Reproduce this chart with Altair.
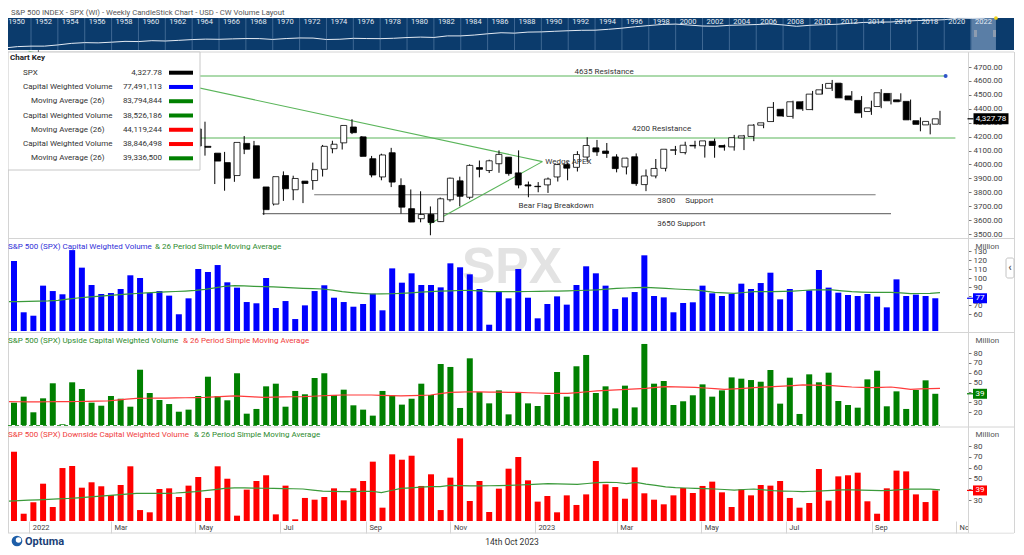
import altair as alt
import pandas as pd

FONT = "Roboto"

# ---------------- weekly S&P 500 data (weeks ending Friday) ----------------
week_ending = pd.date_range("2021-12-17", periods=96, freq="W-FRI")

spx_open = [4710, 4588, 4733, 4778, 4655, 4632, 4356, 4431, 4506, 4412,
            4332, 4363, 4328, 4202, 4462, 4541, 4547, 4474, 4385, 4255,
            4130, 4081, 4013, 3920, 4151, 4134, 3838, 3715, 3920, 3818,
            3880, 3884, 3965, 4113, 4155, 4269, 4198, 4041, 3910, 4084,
            3849, 3682, 3610, 3641, 3589, 3746, 3882, 3764, 3977, 3956,
            4005, 4052, 3939, 3853, 3843, 3853, 3910, 3999, 3979, 4053,
            4119, 4096, 4054, 3982, 4055, 3855, 3917, 3972, 4102, 4085,
            4137, 4134, 4166, 4136, 4126, 4190, 4201, 4282, 4308, 4396,
            4345, 4450, 4394, 4505, 4547, 4584, 4492, 4460, 4380, 4416,
            4510, 4464, 4453, 4314, 4284, 4289]
spx_high = [4731, 4740, 4808, 4819, 4749, 4632, 4453, 4595, 4590, 4489,
            4385, 4416, 4329, 4465, 4546, 4637, 4594, 4521, 4513, 4308,
            4307, 4081, 4090, 4158, 4204, 4169, 3838, 3913, 3950, 3919,
            3880, 4013, 4140, 4170, 4280, 4325, 4203, 4061, 4077, 4119,
            3900, 3820, 3807, 3698, 3762, 3905, 3912, 4001, 4028, 4034,
            4101, 4052, 4101, 3877, 3873, 3906, 4003, 4015, 4095, 4195,
            4176, 4154, 4073, 4048, 4079, 3964, 4039, 4110, 4133, 4163,
            4170, 4170, 4186, 4143, 4212, 4212, 4290, 4300, 4448, 4400,
            4458, 4456, 4528, 4578, 4607, 4584, 4527, 4491, 4458, 4541,
            4514, 4511, 4466, 4338, 4293, 4385]
spx_low = [4600, 4532, 4726, 4662, 4582, 4395, 4222, 4414, 4401, 4327,
           4115, 4280, 4157, 4161, 4424, 4517, 4450, 4381, 4267, 4128,
           4063, 3859, 3811, 3875, 4074, 3900, 3637, 3705, 3738, 3743,
           3722, 3818, 3913, 4080, 4107, 4218, 4057, 3907, 3886, 3837,
           3647, 3585, 3584, 3491, 3586, 3733, 3699, 3750, 3907, 3938,
           3940, 3919, 3828, 3764, 3800, 3795, 3877, 3886, 3949, 4018,
           4061, 4047, 3943, 3928, 3846, 3808, 3900, 3950, 4068, 4072,
           4114, 4049, 4048, 4099, 4099, 4103, 4167, 4260, 4305, 4341,
           4329, 4385, 4389, 4503, 4528, 4474, 4458, 4335, 4356, 4404,
           4431, 4450, 4317, 4238, 4216, 4283]
spx_close = [4620, 4725, 4766, 4677, 4663, 4398, 4432, 4501, 4419, 4349,
             4385, 4329, 4204, 4463, 4543, 4546, 4488, 4392, 4272, 4132,
             4123, 4024, 3901, 4158, 4109, 3901, 3675, 3912, 3825, 3899,
             3863, 3962, 4130, 4145, 4280, 4228, 4058, 3924, 4068, 3873,
             3693, 3586, 3640, 3583, 3753, 3901, 3771, 3993, 3965, 4026,
             4072, 3934, 3852, 3845, 3840, 3895, 3999, 3973, 4071, 4136,
             4090, 4079, 3970, 4045, 3862, 3917, 3971, 4109, 4105, 4138,
             4133, 4169, 4136, 4124, 4192, 4205, 4282, 4299, 4410, 4348,
             4450, 4399, 4505, 4536, 4582, 4478, 4464, 4370, 4406, 4515,
             4457, 4450, 4320, 4288, 4309, 4327.78]

# capital weighted volume (millions)
cw_volume = [118.9, 61.9, 58.1, 91.5, 85.5, 81.9, 131.0, 111.5, 92.2, 82.2,
             83.3, 87.8, 103.0, 100.0, 83.3, 85.5, 80.4, 59.7, 77.4, 110.0,
             106.7, 114.4, 95.2, 89.3, 73.3, 71.9, 100.0, 66.7, 74.4, 54.4,
             69.6, 85.5, 91.9, 78.1, 73.3, 68.1, 71.1, 82.6, 64.1, 110.7,
             94.8, 105.2, 92.2, 92.2, 89.6, 116.3, 111.9, 104.1, 87.8, 48.1,
             85.5, 77.4, 110.0, 78.1, 55.2, 71.1, 79.6, 70.4, 92.2, 113.0,
             105.2, 91.5, 65.6, 78.5, 84.4, 125.2, 80.0, 78.5, 61.9, 72.2,
             73.0, 91.5, 83.0, 80.0, 82.2, 93.7, 87.8, 94.4, 105.9, 76.3,
             87.8, 42.0, 86.3, 108.9, 89.3, 83.7, 81.1, 80.0, 82.2, 79.3,
             67.4, 98.5, 80.0, 81.5, 80.0, 77.49]
cw_volume_ma = [73.7, 73.8, 74.0, 74.3, 74.6, 75.2, 76.5, 77.8, 78.8, 79.6,
                80.4, 81.2, 82.0, 82.8, 83.5, 84.1, 84.6, 85.0, 85.5, 86.2,
                87.4, 89.0, 90.8, 91.5, 91.2, 90.8, 90.4, 90.2, 89.6, 89.0,
                88.5, 88.2, 87.8, 86.5, 84.8, 83.8, 83.0, 82.2, 82.3, 82.5,
                83.0, 83.5, 84.2, 84.8, 85.5, 85.8, 86.1, 86.3, 85.6, 84.8,
                84.8, 84.8, 84.8, 85.0, 85.2, 85.4, 85.5, 85.8, 86.1, 86.4,
                86.7, 87.6, 88.5, 88.9, 89.3, 89.6, 89.0, 88.4, 87.8, 87.2,
                86.7, 85.4, 84.1, 83.5, 83.0, 83.9, 84.8, 84.8, 84.8, 85.1,
                85.5, 86.1, 86.7, 86.7, 86.7, 85.7, 84.8, 84.4, 84.1, 84.1,
                84.1, 83.4, 82.6, 82.8, 83.0, 83.79]
up_volume = [29.5, 35.6, 19.7, 33.9, 49.2, 7.5, 50.2, 43.4, 29.5, 26.4,
             36.3, 33.5, 25.4, 63.0, 39.3, 32.2, 28.1, 20.3, 22.4, 36.3,
             55.9, 36.3, 31.9, 59.4, 18.3, 23.1, 46.1, 48.8, 25.4, 41.4,
             38.0, 54.6, 59.4, 37.3, 42.7, 26.8, 22.4, 16.3, 41.4, 37.0,
             27.5, 33.5, 48.8, 37.3, 68.8, 65.8, 24.1, 74.6, 40.3, 28.8,
             42.0, 17.6, 39.6, 28.8, 26.1, 37.3, 60.7, 35.6, 66.5, 78.0,
             39.3, 46.1, 23.7, 46.8, 24.7, 89.2, 48.8, 51.5, 27.1, 30.9,
             37.0, 48.1, 35.6, 42.0, 55.2, 53.9, 52.5, 50.8, 62.7, 28.5,
             54.9, 18.0, 58.3, 50.2, 60.0, 31.2, 27.1, 24.4, 53.2, 62.0,
             25.8, 41.0, 23.1, 42.4, 52.2, 38.53]
up_volume_ma = [30.5, 30.4, 30.3, 30.3, 30.4, 30.5, 30.6, 30.7, 30.8, 31.0,
                31.2, 32.0, 33.0, 33.9, 34.0, 34.1, 34.2, 34.3, 34.5, 34.7,
                34.9, 35.4, 35.9, 36.3, 35.8, 35.3, 34.9, 35.1, 35.3, 35.5,
                35.6, 36.0, 36.5, 36.9, 37.3, 37.3, 37.3, 37.3, 37.0, 36.6,
                36.3, 36.6, 37.0, 37.3, 38.6, 40.0, 40.3, 40.6, 40.5, 40.3,
                40.2, 40.0, 40.0, 39.6, 39.3, 39.0, 39.0, 39.0, 39.8, 40.6,
                41.4, 41.9, 42.4, 43.0, 43.5, 44.1, 45.0, 45.8, 45.6, 45.3,
                45.1, 44.4, 43.7, 43.1, 43.6, 44.1, 44.7, 45.2, 45.8, 46.4,
                46.9, 47.5, 47.3, 47.0, 46.8, 46.1, 45.4, 45.1, 44.8, 45.1,
                45.4, 44.3, 43.1, 43.5, 43.8, 44.12]
down_volume = [74.7, 17.3, 27.9, 45.1, 23.5, 59.6, 61.5, 41.4, 46.4, 42.7,
               34.6, 43.9, 61.2, 20.7, 18.6, 40.2, 40.8, 32.8, 43.3, 51.3,
               31.9, 61.2, 49.7, 15.5, 39.6, 47.6, 52.9, 16.7, 43.3, 12.1,
               31.9, 30.3, 32.8, 40.8, 29.7, 40.8, 47.6, 65.5, 22.9, 72.3,
               67.3, 71.0, 43.0, 53.8, 20.7, 50.7, 87.1, 29.1, 47.6, 18.9,
               40.5, 59.0, 69.8, 48.2, 28.5, 33.7, 18.6, 34.3, 25.4, 35.2,
               66.1, 44.5, 42.0, 31.2, 60.2, 36.2, 30.3, 26.0, 34.3, 41.1,
               36.5, 43.0, 47.0, 37.1, 23.5, 39.9, 34.3, 43.9, 43.3, 47.6,
               31.9, 22.9, 27.2, 58.7, 29.4, 51.9, 52.9, 55.3, 28.8, 17.3,
               40.8, 57.2, 56.5, 35.2, 28.1, 38.85]
down_volume_ma = [29.0, 29.4, 29.8, 30.1, 30.6, 31.0, 31.4, 31.9, 32.6, 33.3,
                  34.1, 34.8, 35.5, 36.2, 36.2, 36.2, 36.2, 36.5, 37.1, 37.7,
                  38.6, 39.6, 40.7, 41.3, 41.2, 41.0, 40.9, 40.7, 40.6, 40.4,
                  40.2, 39.2, 38.3, 38.0, 37.8, 37.7, 37.9, 38.1, 36.9, 38.8,
                  40.7, 41.3, 41.9, 42.3, 42.3, 43.5, 43.3, 43.0, 43.1, 43.2,
                  43.3, 43.6, 43.9, 44.3, 44.7, 45.1, 44.9, 44.7, 44.5, 45.3,
                  46.1, 46.4, 46.2, 45.2, 46.3, 44.7, 43.6, 42.1, 41.4, 41.1,
                  40.8, 40.5, 40.2, 39.7, 39.2, 39.7, 40.2, 39.4, 38.7, 38.3,
                  38.1, 37.8, 38.1, 38.5, 38.9, 39.3, 39.5, 39.2, 38.9, 38.6,
                  39.0, 39.6, 40.1, 40.1, 40.0, 39.34]

# chart key
key_labels = ["SPX", "Capital Weighted Volume", "Moving Average (26)",
              "Capital Weighted Volume", "Moving Average (26)",
              "Capital Weighted Volume", "Moving Average (26)"]
key_values = ["4,327.78", "77,491,113", "83,794,844", "38,526,186",
              "44,119,244", "38,846,498", "39,336,500"]

# long-term navigator (yearly S&P 500 level)
nav_years = list(range(1950, 2024))
nav_spx = [17, 22, 24, 24, 30, 40, 46, 44, 50, 58,
           56, 66, 62, 70, 81, 88, 85, 92, 98, 97,
           83, 98, 109, 107, 82, 86, 102, 98, 96, 103,
           118, 128, 120, 160, 160, 187, 236, 287, 266, 323,
           335, 376, 415, 451, 460, 542, 670, 873, 1085, 1327,
           1427, 1194, 993, 965, 1131, 1207, 1311, 1477, 1220, 948,
           1140, 1268, 1379, 1643, 1931, 2061, 2094, 2449, 2746, 2913,
           3218, 4273, 4100, 4300]
nav_label_years = list(range(1950, 2023, 2))
nav_window = [2021.97, 2023.85]

# ticks
price_ticks = list(range(3500, 4801, 100))
vol1_ticks = list(range(60, 131, 10))
vol2_ticks = list(range(20, 81, 10))
vol3_ticks = list(range(30, 81, 10))
month_ticks = [(2022, 1), (2022, 3), (2022, 5), (2022, 7), (2022, 9), (2022, 11),
               (2023, 1), (2023, 3), (2023, 5), (2023, 7), (2023, 9), (2023, 11)]

# drawn annotations
resistance_levels = [4635, 4190]
resistance_start = ["2021-12-20", "2021-12-20"]
resistance_end = ["2023-10-21", "2023-10-28"]
support_levels = [3782, 3647]
support_start = ["2022-07-27", "2022-06-20"]
support_end = ["2023-09-01", "2023-09-12"]
wedge_start = ["2022-01-04", "2022-10-17"]
wedge_start_price = [4813, 3570]
wedge_end = ["2023-01-06", "2023-01-06"]
wedge_end_price = [4020, 4020]
note_text = ["4635 Resistance", "4200 Resistance", "Wedge APEX",
             "Bear Flag Breakdown", "3800", "Support", "3650 Support"]
note_date = ["2023-01-29", "2023-03-11", "2023-01-08", "2022-12-20",
             "2023-03-29", "2023-04-18", "2023-03-29"]
note_price = [4664, 4252, 4020, 3703, 3735, 3735, 3572]

for s in (spx_open, spx_high, spx_low, spx_close, cw_volume, cw_volume_ma,
          up_volume, up_volume_ma, down_volume, down_volume_ma):
    assert len(s) == 96, len(s)
assert len(nav_spx) == len(nav_years)

# ---------------- styling constants ----------------
W, H = 960, 513
BLUE, GREEN, RED = "#0000ff", "#008000", "#ff0000"
MA_GREEN, MA_RED = "#3a9a3a", "#ff3b3b"
LINE_GREEN = "#5ab55a"
SEP = "#d4d4d4"
KEY_COLORS = ["#000000", BLUE, GREEN, GREEN, RED, RED, GREEN]

df = pd.DataFrame({
    "bar_date": week_ending + pd.Timedelta(days=4),
    "open": spx_open, "high": spx_high, "low": spx_low, "close": spx_close,
    "cwv": cw_volume, "cwv_ma": cw_volume_ma,
    "up": up_volume, "up_ma": up_volume_ma,
    "down": down_volume, "down_ma": down_volume_ma,
})
last = df.tail(1)
ONE = pd.DataFrame({"k": [0]})

X_SCALE = alt.Scale(domain=[alt.DateTime(year=2021, month=12, date=20, hours=7),
                            alt.DateTime(year=2023, month=11, date=6)], range=[0, W])
PRICE = alt.Scale(domain=[3500, 4700], range=[226, 59], zero=False, nice=False)
V1 = alt.Scale(domain=[60, 130], range=[306, 243], zero=False, nice=False)
V2 = alt.Scale(domain=[20, 80], range=[404, 345], zero=False, nice=False)
V3 = alt.Scale(domain=[30, 80], range=[492, 438], zero=False, nice=False)
V1_BASE, V2_BASE, V3_BASE = 41.1, 6.78, 10.56   # panel floors (value at panel bottom edge)
NAVX = alt.Scale(domain=[1950, 2025], range=[-3.86, 1003.4], zero=False, nice=False)
NAVY = alt.Scale(type="log", domain=[17, 4400], range=[40, 10], nice=False)
KEYY = alt.Scale(domain=[0, 6], range=[64.7, 150.3], zero=False, nice=False)


def xt(field, axis=None):
    return alt.X(f"{field}:T", scale=X_SCALE, axis=axis)


def yaxis(values, fmt, title=None, title_y=0):
    kw = dict(orient="right", values=values, format=fmt, domain=False, grid=False,
              ticks=True, tickSize=3, tickColor="#777", labelFont=FONT, labelFontSize=8,
              labelColor="#444", labelPadding=2, labelAlign="left", labelBaseline="middle",
              offset=0, zindex=0, labelOverlap=False, labelFlush=False)
    if title:
        kw.update(title=title, titleAngle=0, titleAlign="left", titleBaseline="middle",
                  titleX=7, titleY=title_y, titleFont=FONT, titleFontSize=8,
                  titleFontWeight="normal", titleColor="#555")
    else:
        kw["title"] = None
    return alt.Axis(**kw)


XAXIS = alt.Axis(orient="bottom",
                 values=[alt.DateTime(year=y, month=m, date=1) for y, m in month_ticks],
                 labelExpr="month(datum.value) == 0 ? timeFormat(datum.value, '%Y') : timeFormat(datum.value, '%b')",
                 domain=False, grid=False, ticks=True, tickSize=12, tickColor=SEP,
                 labelAlign="left", labelBaseline="middle", labelPadding=-6, labelOffset=3,
                 labelFont=FONT, labelFontSize=7.5, labelColor="#444", labelFlush=False,
                 labelOverlap=False, title=None, zindex=0, offset=0)


def box(x, x2, y, y2, **mk):
    return alt.Chart(ONE).mark_rect(**mk).encode(
        x=alt.value(x), x2=alt.value(x2), y=alt.value(y), y2=alt.value(y2))


def seg(x, x2, y, y2, color=SEP, **mk):
    return alt.Chart(ONE).mark_rule(color=color, **mk).encode(
        x=alt.value(x), x2=alt.value(x2), y=alt.value(y), y2=alt.value(y2))


def txt(x, y, text, size=8, color="#333", align="left", weight="normal", font=FONT):
    return alt.Chart(ONE).mark_text(text=text, fontSize=size, color=color, align=align,
                                    baseline="middle", fontWeight=weight, font=font).encode(
        x=alt.value(x), y=alt.value(y))


layers = []

# ---- title + navigator ----
layers.append(txt(3, 5, "S&P 500 INDEX - SPX (WI) - Weekly CandleStick Chart - USD - CW Volume Layout",
                  size=7.7, color="#555"))
layers.append(box(0, 1006, 10, 42, fill="#0b3b6c"))
nav_win = pd.DataFrame({"a": [nav_window[0]], "b": [nav_window[1]]})
layers.append(alt.Chart(nav_win).mark_rect(fill="#5a7ea6").encode(
    x=alt.X("a:Q", scale=NAVX, axis=None), x2="b:Q", y=alt.value(10), y2=alt.value(42)))
nav_lab = pd.DataFrame({"year": nav_label_years})
layers.append(alt.Chart(nav_lab).transform_filter("datum.year > 1950").mark_rule(
    color="#3f6893", strokeWidth=1).encode(
    x=alt.X("year:Q", scale=NAVX, axis=None), y=alt.value(10), y2=alt.value(42)))
layers.append(alt.Chart(nav_lab).mark_text(align="left", baseline="middle", dx=4, font=FONT,
                                           fontSize=7.5, color="#e4ebf3").encode(
    x=alt.X("year:Q", scale=NAVX, axis=None), y=alt.value(14), text="year:N"))
nav_df = pd.DataFrame({"year": nav_years, "spx": nav_spx})
layers.append(alt.Chart(nav_df).mark_line(color="#e2e9f2", strokeWidth=1).encode(
    x=alt.X("year:Q", scale=NAVX, axis=None), y=alt.Y("spx:Q", scale=NAVY, axis=None)))
layers.append(box(966, 969, 22, 29, fill="#8d9cb0"))
layers.append(box(985, 988, 22, 29, fill="#8d9cb0"))
nav_dot = pd.DataFrame({"year": [nav_window[1]], "spx": [4400]})
layers.append(alt.Chart(nav_dot).mark_circle(color="#f2d21c", size=14, opacity=1).encode(
    x=alt.X("year:Q", scale=NAVX, axis=None), y=alt.Y("spx:Q", scale=NAVY, axis=None)))

# ---- frame ----
for yy in (44, 230.5, 324.5, 419, 525):
    layers.append(seg(0, 1006, yy, yy))
for xx in (0.5, 1006.5):
    layers.append(seg(xx, xx, 44, 525))

# watermark
layers.append(txt(504, 260, "SPX", size=50, color="#e3e3e3", align="center", weight="bold",
                  font="Liberation Sans"))

# ---- price panel ----
res_df = pd.DataFrame({"start": pd.to_datetime(resistance_start),
                       "end": pd.to_datetime(resistance_end), "level": resistance_levels})
layers.append(alt.Chart(res_df).mark_rule(color=LINE_GREEN, strokeWidth=1.1, clip=True).encode(
    x=xt("start"), x2="end:T", y=alt.Y("level:Q", scale=PRICE, axis=None)))
sup_df = pd.DataFrame({"start": pd.to_datetime(support_start),
                       "end": pd.to_datetime(support_end), "level": support_levels})
layers.append(alt.Chart(sup_df).mark_rule(color="#777777", strokeWidth=1.2, clip=True).encode(
    x=xt("start"), x2="end:T", y=alt.Y("level:Q", scale=PRICE, axis=None)))
wedge_df = pd.DataFrame({"start": pd.to_datetime(wedge_start), "end": pd.to_datetime(wedge_end),
                         "p0": wedge_start_price, "p1": wedge_end_price})
layers.append(alt.Chart(wedge_df).mark_rule(color=LINE_GREEN, strokeWidth=1.1, clip=True).encode(
    x=xt("start"), x2="end:T", y=alt.Y("p0:Q", scale=PRICE, axis=None), y2="p1:Q"))

layers.append(alt.Chart(df).mark_rule(color="#000000", strokeWidth=1, clip=True).encode(
    x=xt("bar_date"), y=alt.Y("low:Q", scale=PRICE, axis=yaxis(price_ticks, ".2f")), y2="high:Q"))
layers.append(alt.Chart(df).mark_bar(size=6, stroke="#000000", strokeWidth=0.8, clip=True).encode(
    x=xt("bar_date"), y=alt.Y("open:Q", scale=PRICE, axis=None), y2="close:Q",
    fill=alt.condition("datum.close >= datum.open", alt.value("#ffffff"), alt.value("#000000"))))

notes = pd.DataFrame({"text": note_text, "date": pd.to_datetime(note_date), "price": note_price})
layers.append(alt.Chart(notes).mark_text(align="left", baseline="middle", font=FONT, fontSize=8,
                                         color="#333").encode(
    x=xt("date"), y=alt.Y("price:Q", scale=PRICE, axis=None), text="text:N"))
layers.append(alt.Chart(res_df.head(1)).mark_circle(color="#2f55c8", size=16, opacity=1).encode(
    x=xt("end"), y=alt.Y("level:Q", scale=PRICE, axis=None)))

# ---- chart key ----
layers.append(box(0, 192, 44, 162, fill="#ffffff", stroke="#c8c8c8", strokeWidth=1))
layers.append(txt(2, 50, "Chart Key", size=8, color="#222", weight="bold"))
key_df = pd.DataFrame({"row": list(range(len(key_labels))), "label": key_labels, "value": key_values})
kt = dict(baseline="middle", font=FONT, fontSize=8, color="#333")
layers.append(alt.Chart(key_df).transform_filter("indexof(datum.label, 'Moving') != 0").mark_text(
    align="left", **kt).encode(x=alt.value(15), y=alt.Y("row:Q", scale=KEYY, axis=None), text="label:N"))
layers.append(alt.Chart(key_df).transform_filter("indexof(datum.label, 'Moving') == 0").mark_text(
    align="left", **kt).encode(x=alt.value(23), y=alt.Y("row:Q", scale=KEYY, axis=None), text="label:N"))
layers.append(alt.Chart(key_df).mark_text(align="right", **kt).encode(
    x=alt.value(154), y=alt.Y("row:Q", scale=KEYY, axis=None), text="value:N"))
layers.append(alt.Chart(key_df).mark_tick(orient="horizontal", size=24, thickness=4, opacity=1).encode(
    x=alt.value(173), y=alt.Y("row:Q", scale=KEYY, axis=None),
    color=alt.Color("row:O", scale=alt.Scale(domain=list(range(7)), range=KEY_COLORS), legend=None)))

# ---- volume panels ----
def vol_panel(field, ma_field, scale, base, bar_color, ma_color, ticks, title_y, xaxis=None):
    out = []
    out.append(alt.Chart(df).mark_bar(size=6, color=bar_color, clip=True).encode(
        x=xt("bar_date", xaxis),
        y=alt.Y(f"{field}:Q", scale=scale, axis=yaxis(ticks, "d", "Million", title_y)),
        y2=alt.Y2Datum(base)))
    out.append(alt.Chart(df).mark_line(color=ma_color, strokeWidth=1.2, clip=True).encode(
        x=xt("bar_date"), y=alt.Y(f"{ma_field}:Q", scale=scale, axis=None)))
    return out


layers += vol_panel("cwv", "cwv_ma", V1, V1_BASE, BLUE, MA_GREEN, vol1_ticks, 238)
layers += vol_panel("up", "up_ma", V2, V2_BASE, GREEN, MA_RED, vol2_ticks, 332)
layers += vol_panel("down", "down_ma", V3, V3_BASE, RED, MA_GREEN, vol3_ticks, 426, XAXIS)

layers.append(txt(0, 239, "S&P 500 (SPX)  Capital Weighted Volume", color="#2f2fd8"))
layers.append(txt(147, 239, "& 26 Period Simple Moving Average", color="#2e8b2e"))
layers.append(txt(0, 332.7, "S&P 500 (SPX)  Upside Capital Weighted Volume", color="#2e8b2e"))
layers.append(txt(175, 332.7, "& 26 Period Simple Moving Average", color="#f03c3c"))
layers.append(txt(0, 427, "S&P 500 (SPX)  Downside Capital Weighted Volume", color="#f03c3c"))
layers.append(txt(186, 427, "& 26 Period Simple Moving Average", color="#2e8b2e"))

layers.append(seg(0, 932, 417.5, 417.5, color="#3a9a3a", strokeDash=[4, 3], strokeWidth=1))
layers.append(seg(960.5, 960.5, 44, 525))

# ---- last value tags ----
def tag(field, scale, color, width, cx, fmt, height=10):
    return [
        alt.Chart(last).mark_tick(orient="horizontal", size=6, thickness=1.2, color=color, opacity=1).encode(
            x=alt.value(cx - width / 2 - 3), y=alt.Y(f"{field}:Q", scale=scale, axis=None)),
        alt.Chart(last).mark_tick(orient="horizontal", size=width, thickness=height, color=color, opacity=1).encode(
            x=alt.value(cx), y=alt.Y(f"{field}:Q", scale=scale, axis=None)),
        alt.Chart(last).mark_text(color="#ffffff", font=FONT, fontSize=8, align="center",
                                  baseline="middle").encode(
            x=alt.value(cx), y=alt.Y(f"{field}:Q", scale=scale, axis=None),
            text=alt.Text(f"{field}:Q", format=fmt)),
    ]


layers += tag("close", PRICE, "#000000", 35, 983, ",.2f", height=11)
layers += tag("cwv", V1, BLUE, 14, 972, ".0f")
layers += tag("up", V2, GREEN, 14, 972, ".0f")
layers += tag("down", V3, RED, 14, 972, ".0f")

# cover for the clipped last month label, side button
layers.append(box(961, 1006, 514, 524.5, fill="#ffffff"))
layers.append(box(998, 1006, 250, 270, fill="#ffffff", stroke="#c4c4c4", strokeWidth=1, cornerRadius=2))
layers.append(txt(1002, 259.5, "‹", size=11, color="#555", align="center", weight="bold"))

# ---- footer ----
layers.append(alt.Chart(ONE).mark_circle(size=115, color="#1d5ea8", opacity=1).encode(
    x=alt.value(9), y=alt.value(533)))
layers.append(alt.Chart(ONE).mark_circle(size=30, color="#ffffff", opacity=1).encode(
    x=alt.value(10.5), y=alt.value(532)))
layers.append(txt(17, 533.5, "Optuma", size=11, color="#1b3f78", weight="bold"))
layers.append(txt(504, 534, "14th Oct 2023", size=8.5, color="#333", align="center"))

chart = alt.layer(*layers).resolve_scale(x="independent", y="independent", color="independent").properties(
    width=W, height=H,
    autosize=alt.AutoSizeParams(type="none"),
    padding={"left": 0, "top": 0, "right": 48, "bottom": 26},
    background="#ffffff",
).configure_view(strokeWidth=0)

chart.save("out.html", embed_options={"renderer": "svg", "actions": False})
